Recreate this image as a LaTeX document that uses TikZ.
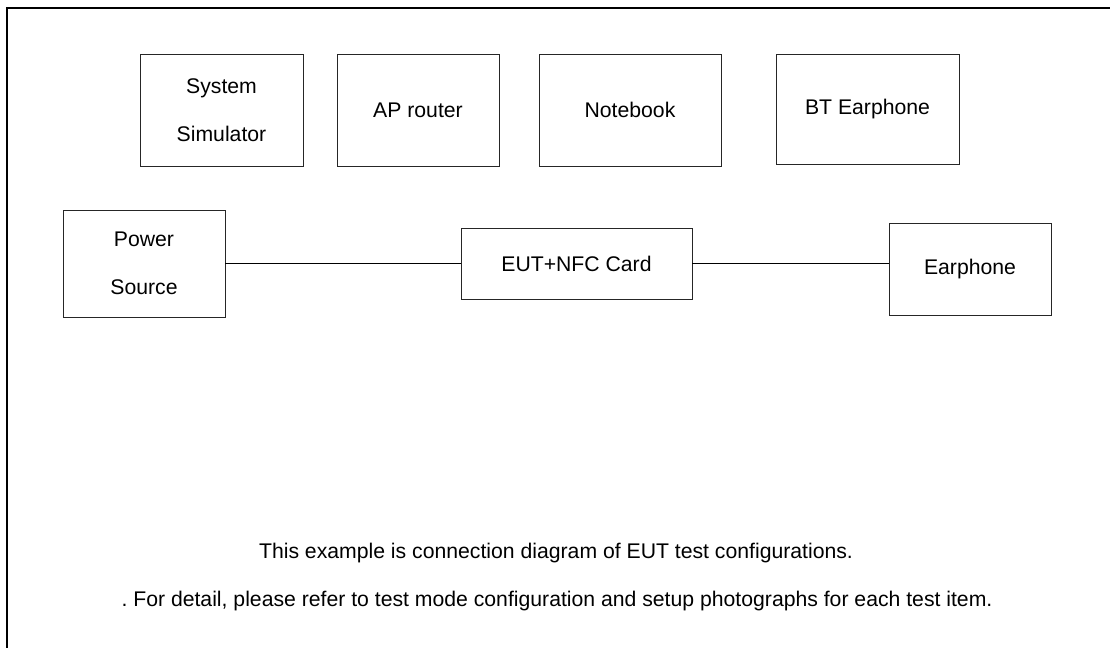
\documentclass[tikz,border=0pt]{standalone}
\usepackage{fontspec}
\setmainfont{Liberation Sans}
\frenchspacing
\usetikzlibrary{positioning}
\tikzset{
    unitbox/.style = {rectangle, draw=black!85, line width=0.7pt, align=center, inner sep=0pt, outer sep=0pt, font=\fontsize{15.9}{36}\selectfont},
    wire/.style = {-, line width=1.3pt, black},
    frameline/.style = {line width=2pt, black},
    notetext/.style = {inner sep=0pt, font=\fontsize{15.9}{18}\selectfont}
}
\begin{document}
\begin{tikzpicture}[x=0.75pt, y=-0.75pt]
  \useasboundingbox (0,0) rectangle (1110,648);
  % outer frame, cut off at right and bottom
  \draw[frameline] (7,660) -- (7,8) -- (1120,8);
  % row of test equipment
  \node[unitbox, minimum width=122.25pt, minimum height=84pt] (simulator) at (221.5,110) {System\\Simulator};
  \node[unitbox, minimum width=121.5pt, minimum height=84pt] (router) at (418,110) {AP router};
  \node[unitbox, minimum width=136.5pt, minimum height=84pt] (notebook) at (630,110) {Notebook};
  \node[unitbox, minimum width=137.25pt, minimum height=82.5pt] (btphone) at (867.5,109) {BT Earphone};
  % test set-up
  \node[unitbox, minimum width=121.5pt, minimum height=80.25pt] (power) at (144,263.5) {Power\\Source};
  \node[unitbox, minimum width=173.25pt, minimum height=53.25pt] (eut) at (576.5,263.5) {EUT+NFC Card};
  \node[unitbox, minimum width=121.5pt, minimum height=69pt] (earphone) at (970,269) {Earphone};
  \draw[wire] (power.east) -- (eut.west);
  \draw[wire] (eut.east) -- (eut.east -| earphone.west);
  % notes
  \node[notetext] (note1) at (556,553) {This example is connection diagram of EUT test configurations.};
  \node[notetext] (note2) at (557,601) {. For detail, please refer to test mode configuration and setup photographs for each test item.};
\end{tikzpicture}
\end{document}
